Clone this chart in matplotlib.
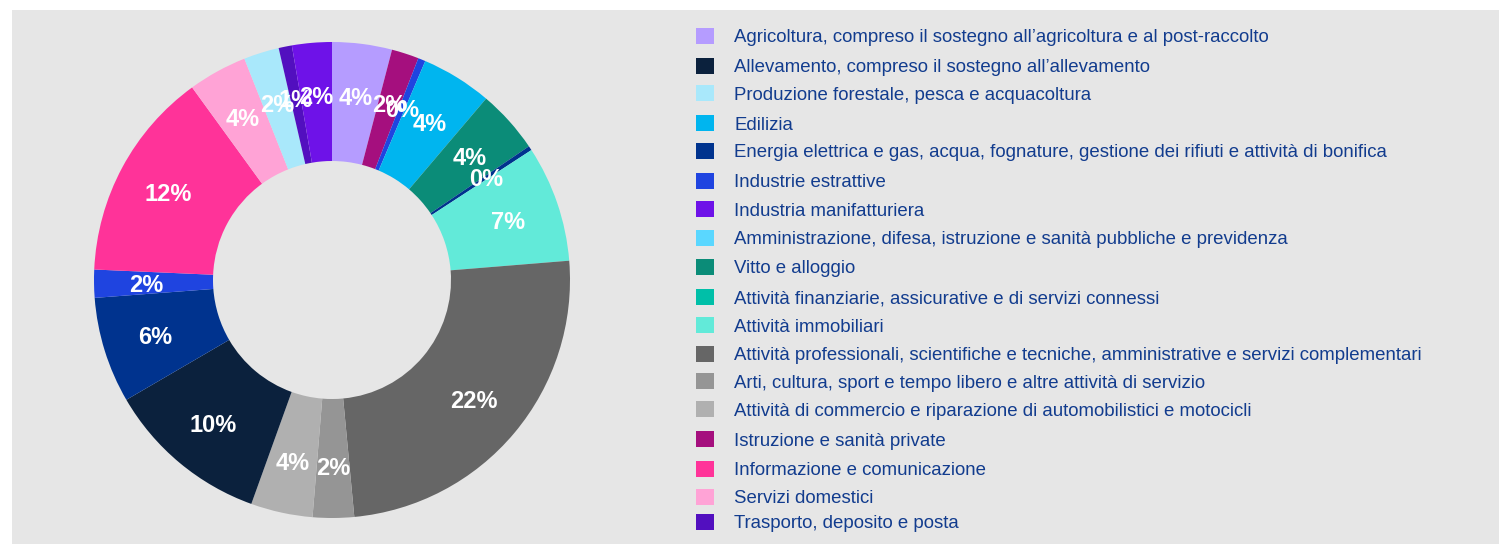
import numpy as np
import matplotlib.pyplot as plt
from matplotlib.patches import Rectangle

# legend entries (in legend order) and their colours
legend_names = [
    "Agricoltura, compreso il sostegno all\u2019agricoltura e al post-raccolto",
    "Allevamento, compreso il sostegno all\u2019allevamento",
    "Produzione forestale, pesca e acquacoltura",
    "Edilizia",
    "Energia elettrica e gas, acqua, fognature, gestione dei rifiuti e attivit\u00e0 di bonifica",
    "Industrie estrattive",
    "Industria manifatturiera",
    "Amministrazione, difesa, istruzione e sanit\u00e0 pubbliche e previdenza",
    "Vitto e alloggio",
    "Attivit\u00e0 finanziarie, assicurative e di servizi connessi",
    "Attivit\u00e0 immobiliari",
    "Attivit\u00e0 professionali, scientifiche e tecniche, amministrative e servizi complementari",
    "Arti, cultura, sport e tempo libero e altre attivit\u00e0 di servizio",
    "Attivit\u00e0 di commercio e riparazione di automobilistici e motocicli",
    "Istruzione e sanit\u00e0 private",
    "Informazione e comunicazione",
    "Servizi domestici",
    "Trasporto, deposito e posta",
]
legend_colors = [
    "#b59cff", "#0b213d", "#a9e8fb", "#00b5ef", "#00338e", "#1f44e0",
    "#6e12e8", "#5ad7ff", "#0b8c78", "#00bfa8", "#62ead9", "#666666",
    "#959595", "#b0b0b0", "#a50f7e", "#ff3399", "#ffa3d6", "#520fbf",
]

# donut slices, clockwise from 12 o'clock: (legend index, share, label)
slice_idx = [0, 14, 5, 3, 8, 4, 10, 11, 12, 13, 1, 4, 5, 15, 16, 2, 17, 6]
slice_vals = [4.06, 1.85, 0.5, 4.8, 4.3, 0.3, 7.9, 24.8, 2.8, 4.2,
              11.1, 7.2, 1.9, 14.3, 4.0, 2.4, 0.9, 2.7]
slice_labels = ["4%", "2%", "0%", "4%", "4%", "0%", "7%", "22%", "2%", "4%",
                "10%", "6%", "2%", "12%", "4%", "2%", "1%", "2%"]

plt.rcParams['font.family'] = ['Liberation Sans', 'DejaVu Sans']

W, H = 1499, 544
fig = plt.figure(figsize=(W/100, H/100), dpi=100)
fig.patch.set_facecolor("white")
fig.patches.append(Rectangle((12/W, 0), 1 - 12/W, (H - 10)/H,
                             transform=fig.transFigure, facecolor="#e6e6e6",
                             edgecolor="none", zorder=-10))

cx, cy, r = 332, 280, 238
ax = fig.add_axes([(cx - r)/W, (H - cy - r)/H, 2*r/W, 2*r/H])
ax.set_facecolor("none")

cols = [legend_colors[i] for i in slice_idx]
wedges, _ = ax.pie(slice_vals, colors=cols, startangle=90, counterclock=False,
                   radius=1, wedgeprops=dict(width=0.5, linewidth=0))
for w, lab in zip(wedges, slice_labels):
    th = np.deg2rad((w.theta1 + w.theta2) / 2)
    ax.text(0.78*np.cos(th), 0.78*np.sin(th), lab, ha="center",
            va="center_baseline", color="white", fontsize=17,
            fontweight="bold")
ax.set_xlim(-1, 1)
ax.set_ylim(-1, 1)
ax.set_aspect("equal")
ax.axis("off")

# legend
row_y = [36, 65.5, 93, 123, 150.5, 180.5, 209, 238, 266.5, 296.5,
         325, 354, 381, 409, 439, 468.5, 496.5, 522]
for name, c, y in zip(legend_names, legend_colors, row_y):
    fig.patches.append(Rectangle((696/W, (H - y - 8)/H), 18/W, 16/H,
                                 transform=fig.transFigure, facecolor=c,
                                 edgecolor="none"))
    fig.text(734/W, (H - y)/H, name, ha="left", va="center_baseline",
             color="#123c8e", fontsize=13.4)

fig.savefig("out.png", dpi=100)
